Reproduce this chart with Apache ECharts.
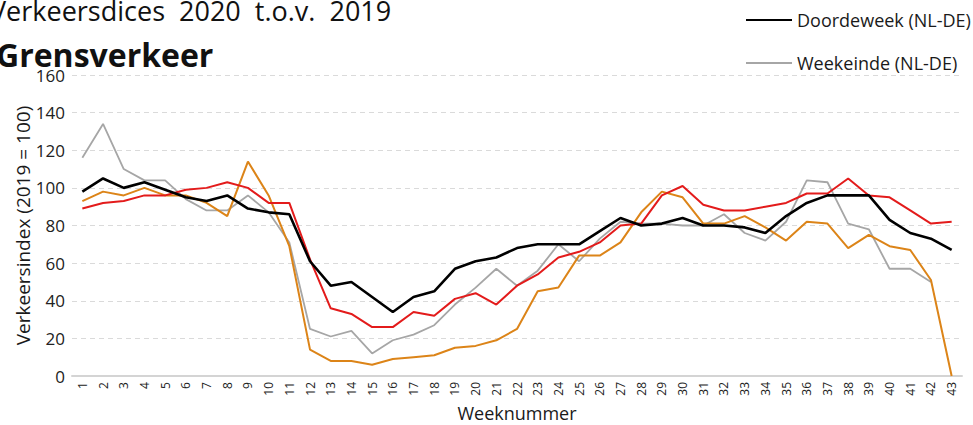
<!DOCTYPE html>
<html>
<head>
<meta charset="utf-8">
<script src="https://cdn.jsdelivr.net/npm/echarts@6/dist/echarts.min.js"></script>
<style>
  html, body { margin: 0; padding: 0; background: #fff; }
  #chart { width: 973px; height: 425px; }
</style>
</head>
<body>
<div id="chart"></div>
<script>
  // weken 1 t/m 43
  var weeks = [];
  for (var w = 1; w <= 43; w++) weeks.push(String(w));

  var doordeweekNLDE = [98, 105, 100, 103, 99, 95, 93, 96, 89, 87, 86, 61, 48, 50, 42, 34, 42, 45, 57, 61, 63, 68, 70, 70, 70, 77, 84, 80, 81, 84, 80, 80, 79, 76, 85, 92, 96, 96, 96, 83, 76, 73, 67];
  var weekeindeNLDE = [116, 134, 110, 104, 104, 94, 88, 88, 96, 87, 71, 25, 21, 24, 12, 19, 22, 27, 38, 47, 57, 48, 56, 70, 61, 73, 82, 81, 81, 80, 80, 86, 76, 72, 82, 104, 103, 81, 78, 57, 57, 50, null];
  var roodReeks = [89, 92, 93, 96, 96, 99, 100, 103, 100, 92, 92, 62, 36, 33, 26, 26, 34, 32, 41, 44, 38, 48, 54, 63, 66, 71, 80, 81, 96, 101, 91, 88, 88, 90, 92, 97, 97, 105, 96, 95, 88, 81, 82];
  var oranjeReeks = [93, 98, 96, 100, 96, 96, 92, 85, 114, 96, 69, 14, 8, 8, 6, 9, 10, 11, 15, 16, 19, 25, 45, 47, 64, 64, 71, 87, 98, 95, 81, 81, 85, 79, 72, 82, 81, 68, 75, 69, 67, 51, 0];

  var chart = echarts.init(document.getElementById('chart'), null, { renderer: 'svg' });

  var font = 'Open Sans';

  chart.setOption({
    animation: false,
    graphic: [
      {
        type: 'text', left: -10, top: -3,
        style: { text: 'Verkeersdices  2020  t.o.v.  2019', font: '27px "Open Sans"', fill: '#111' }
      },
      {
        type: 'text', left: -4, top: 38,
        style: { text: 'Grensverkeer', font: 'bold 32px "Open Sans"', fill: '#111' }
      }
    ],
    legend: {
      data: ['Doordeweek (NL-DE)', 'Weekeinde (NL-DE)'],
      orient: 'vertical',
      left: 740,
      top: 6,
      itemWidth: 46,
      itemHeight: 14,
      itemGap: 25,
      itemStyle: { opacity: 0 },
      textStyle: { fontFamily: font, fontSize: 18, color: '#1a1a1a' }
    },
    grid: { left: 72, right: 11, top: 75, bottom: 49, outerBoundsMode: 'none' },
    xAxis: {
      type: 'category',
      data: weeks,
      boundaryGap: true,
      name: 'Weeknummer',
      nameLocation: 'middle',
      nameGap: 26,
      nameTextStyle: { fontFamily: font, fontSize: 18, color: '#1a1a1a' },
      axisLine: { lineStyle: { color: '#d4d4d4', width: 2 } },
      axisTick: { show: false },
      axisLabel: { rotate: 90, interval: 0, fontFamily: font, fontSize: 12, color: '#222', margin: 6 }
    },
    yAxis: {
      type: 'value',
      min: 0, max: 160, interval: 20,
      name: 'Verkeersindex (2019 = 100)',
      nameLocation: 'middle',
      nameMoveOverlap: false,
      nameGap: 40,
      nameTextStyle: { fontFamily: font, fontSize: 19, color: '#1a1a1a' },
      axisLine: { show: false },
      axisTick: { show: false },
      axisLabel: { fontFamily: font, fontSize: 17, color: '#222', margin: 7 },
      splitLine: { lineStyle: { color: '#dadada', type: [5, 4], width: 1 } }
    },
    series: [
      {
        name: 'Weekeinde (NL-DE)', type: 'line', data: weekeindeNLDE,
        symbol: 'none', color: '#a6a6a6', lineStyle: { width: 1.8, color: '#a6a6a6' }
      },
      {
        name: 'Weekeinde (overig)', type: 'line', data: oranjeReeks,
        symbol: 'none', color: '#dc8418', lineStyle: { width: 2, color: '#dc8418' }
      },
      {
        name: 'Doordeweek (overig)', type: 'line', data: roodReeks,
        symbol: 'none', color: '#e31b1b', lineStyle: { width: 2, color: '#e31b1b' }
      },
      {
        name: 'Doordeweek (NL-DE)', type: 'line', data: doordeweekNLDE,
        symbol: 'none', color: '#000', lineStyle: { width: 2.6, color: '#000' }
      }
    ]
  });
</script>
</body>
</html>
